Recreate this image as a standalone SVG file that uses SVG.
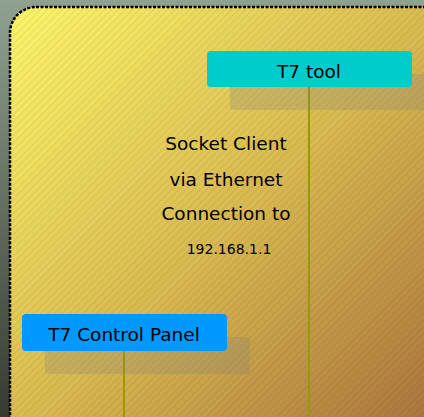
<svg xmlns="http://www.w3.org/2000/svg" width="424" height="417" viewBox="0 0 424 417">
<defs>
<linearGradient id="bg" x1="0" y1="0" x2="0" y2="1">
<stop offset="0" stop-color="#8fa28f"/>
<stop offset="1" stop-color="#363a30"/>
</linearGradient>
<linearGradient id="fill" x1="0" y1="0" x2="1" y2="1">
<stop offset="0" stop-color="#fbf56a"/>
<stop offset="0.5" stop-color="#d8b850"/>
<stop offset="1" stop-color="#a46c3a"/>
</linearGradient>
<pattern id="hatch" width="5" height="5" patternUnits="userSpaceOnUse" patternTransform="rotate(45)">
<line x1="0" y1="0" x2="0" y2="5" stroke="#000" stroke-opacity="0.13" stroke-width="1"/>
</pattern>
<style>
.shadow{fill:#808080;fill-opacity:0.25}
.life{stroke:#9a9a00;stroke-width:2;fill:none}
.lbl{font-family:"DejaVu Sans",sans-serif;font-size:18.5px;fill:#000;text-anchor:middle}
.note{font-family:"DejaVu Sans",sans-serif;font-size:18.5px;fill:#000;text-anchor:middle}
</style>
</defs>
<rect width="424" height="417" fill="url(#bg)"/>
<g id="frame">
<rect x="10" y="7" width="440" height="440" rx="26" fill="url(#fill)"/>
<rect x="10" y="7" width="440" height="440" rx="26" fill="url(#hatch)"/>
<rect x="10" y="7" width="440" height="440" rx="26" fill="none" stroke="#000" stroke-width="2.5" stroke-dasharray="3,1.5"/>
</g>
<g id="connectors">
<line class="life" x1="309" y1="87" x2="309" y2="417"/>
<line class="life" x1="124" y1="351" x2="124" y2="417"/>
</g>
<g id="note">
<text class="note" x="226" y="150">Socket Client</text>
<text class="note" x="226" y="186">via Ethernet</text>
<text class="note" x="226" y="220">Connection to</text>
<text class="note" x="229" y="254" style="font-size:14px">192.168.1.1</text>
</g>
<g id="t7tool">
<rect class="shadow" x="230" y="74" width="205" height="36" rx="4"/>
<rect x="207" y="51" width="205" height="36" rx="4" fill="#00cccc"/>
<text class="lbl" x="309" y="78">T7 tool</text>
</g>
<g id="t7panel">
<rect class="shadow" x="45" y="337" width="205" height="37" rx="4"/>
<rect x="22" y="314" width="205" height="37" rx="4" fill="#0099ff"/>
<text class="lbl" x="124" y="341">T7 Control Panel</text>
</g>
</svg>
